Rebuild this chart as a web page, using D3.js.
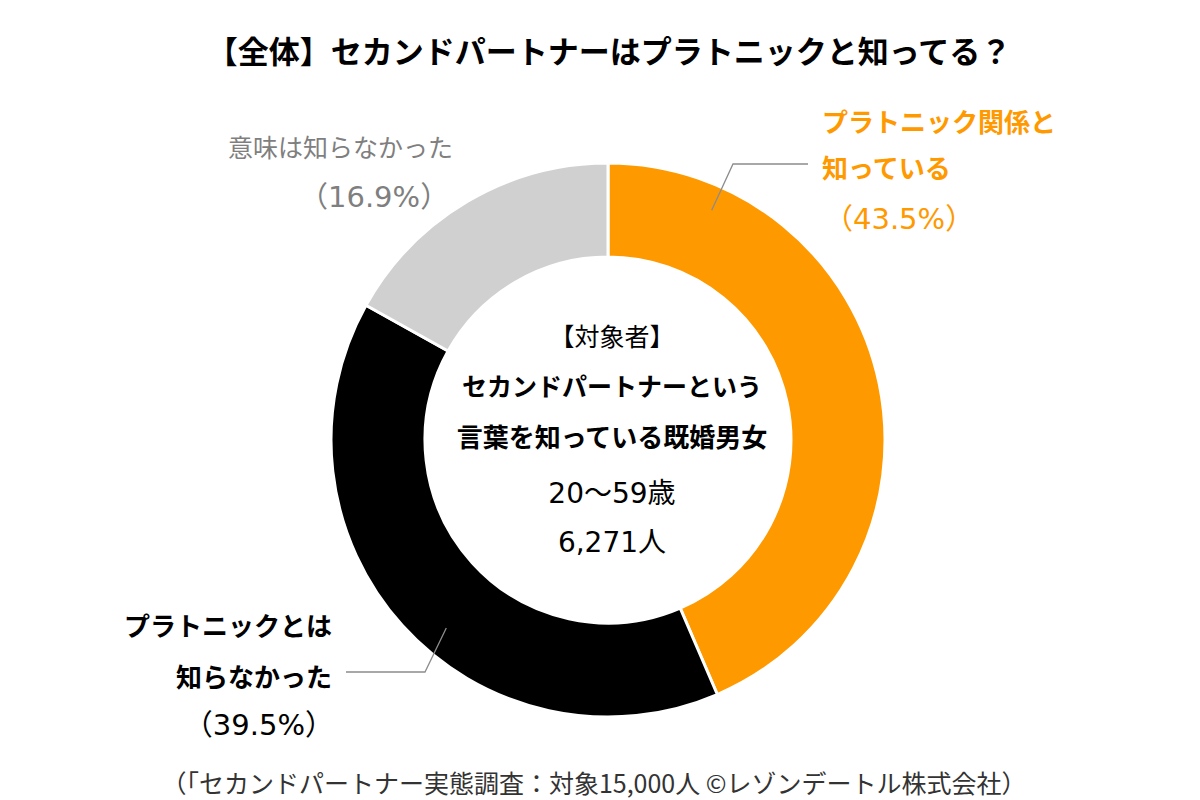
<!DOCTYPE html>
<html><head><meta charset="utf-8">
<script src="https://cdn.jsdelivr.net/npm/d3@7"></script>
<style>
html,body{margin:0;padding:0;background:#fff;}
svg{display:block;font-family:"Noto Sans CJK JP","Noto Sans",sans-serif;}
.num{font-family:"DejaVu Sans","Noto Sans CJK JP",sans-serif;}
</style></head>
<body>
<svg id="chart" width="1200" height="800"></svg>
<script>
const title = "【全体】セカンドパートナーはプラトニックと知ってる？";
const categories = ["プラトニック関係と知っている", "プラトニックとは知らなかった", "意味は知らなかった"];
const values = [43.5, 39.5, 16.9];
const colors = ["#FF9900", "#000000", "#D0D0D0"];
const centerLines = ["【対象者】", "セカンドパートナーという", "言葉を知っている既婚男女", "20～59歳", "6,271人"];
const footnote = "（「セカンドパートナー実態調査：対象15,000人 ©レゾンデートル株式会社）";

const svg = d3.select("#chart");
const cx = 608, cy = 440, rOuter = 277, rInner = 183;

svg.append("text").attr("x", 609).attr("y", 63).attr("text-anchor", "middle")
  .attr("font-size", 31).attr("font-weight", 700).attr("fill", "#000").text(title);

const pie = d3.pie().sort(null).value(d => d)(values);
const arc = d3.arc().innerRadius(rInner).outerRadius(rOuter);
const g = svg.append("g").attr("transform", `translate(${cx},${cy})`);
g.selectAll("path").data(pie).join("path")
  .attr("d", arc).attr("fill", (d, i) => colors[i])
  .attr("stroke", "#fff").attr("stroke-width", 3);

// center text
const cStyles = [
  {size: 25, weight: 400, y: 346, cls: ""},
  {size: 25, weight: 700, y: 396, cls: ""},
  {size: 26, weight: 700, y: 447, cls: ""},
  {size: 28, weight: 400, y: 503, cls: "num"},
  {size: 28, weight: 400, y: 552, cls: "num"}
];
centerLines.forEach((t, i) => {
  svg.append("text").attr("class", cStyles[i].cls).attr("x", 612).attr("y", cStyles[i].y).attr("text-anchor", "middle")
    .attr("font-size", cStyles[i].size).attr("font-weight", cStyles[i].weight)
    .attr("fill", "#000").text(t);
});

// labels
const labels = [
  {lines: ["プラトニック関係と", "知っている", "（" + values[0] + "%）"], color: colors[0],
   weights: [700, 700, 400], x: [822, 822, 824], y: [132, 178, 229], anchor: "start", size: 26,
   leader: {angle: 24.3, r: 252, elbow: [733, 164], end: [808, 164]}},
  {lines: ["プラトニックとは", "知らなかった", "（" + values[1] + "%）"], color: "#000",
   weights: [700, 700, 400], x: [332, 332, 334], y: [636, 687, 735], anchor: "end", size: 26,
   leader: {angle: 220.7, r: 248, elbow: [425, 672], end: [346, 672]}},
  {lines: [categories[2], "（" + values[2] + "%）"], color: "#7F7F7F",
   weights: [400, 400], x: [228, 299], y: [157, 207], anchor: "start", size: 25, leader: null}
];
labels.forEach(L => {
  L.lines.forEach((t, i) => {
    const isPct = t.indexOf("%") >= 0;
    svg.append("text").attr("class", isPct ? "num" : "").attr("x", L.x[i]).attr("y", L.y[i]).attr("text-anchor", L.anchor)
      .attr("font-size", isPct ? 29 : L.size).attr("font-weight", L.weights[i]).attr("fill", L.color).text(t);
  });
  if (L.leader) {
    const a = L.leader.angle * Math.PI / 180;
    const sx = cx + L.leader.r * Math.sin(a), sy = cy - L.leader.r * Math.cos(a);
    svg.append("path")
      .attr("d", d3.line()([[sx, sy], L.leader.elbow, L.leader.end]))
      .attr("fill", "none").attr("stroke", "#8C8C8C").attr("stroke-width", 1.3);
  }
});

svg.append("text").attr("x", 594).attr("y", 793).attr("text-anchor", "middle")
  .attr("font-size", 25).attr("fill", "#333").text(footnote);
</script>
</body></html>
